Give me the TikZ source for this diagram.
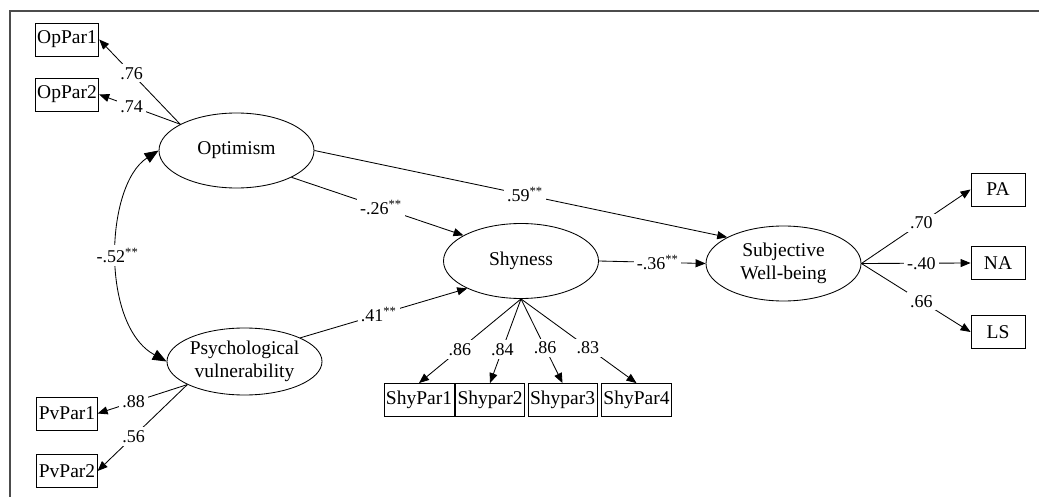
\documentclass[tikz,border=0pt]{standalone}
\usepackage{fontspec}
\setmainfont{Liberation Serif}
\newfontfamily\timesfont{Liberation Serif}
\usetikzlibrary{arrows.meta,positioning,shapes.geometric}

\begin{document}
\begin{tikzpicture}[x=1pt,y=-1pt,line width=0.85pt,
    latent/.style={ellipse,draw,minimum width=155pt,minimum height=75pt,inner sep=0pt,
      align=center,font=\timesfont\fontsize{19.5}{23}\selectfont},
    obs/.style={rectangle,draw,minimum width=54pt,minimum height=33pt,inner xsep=2pt,
      font=\timesfont\fontsize{19.5}{20}\selectfont},
    coef/.style={fill=white,inner sep=3pt,font=\timesfont\fontsize{18}{19}\selectfont},
    load/.style={-{Triangle[length=10pt,width=8pt]}},
    corr/.style={{Triangle[length=14pt,width=11pt]}-{Triangle[length=14pt,width=11pt]}}]
  \useasboundingbox (0,0) rectangle (1039,497);
  % frame
  \draw[black!70,line width=1.5pt] (1039,11) -- (10,11) -- (10,497);

  % latent variables
  \node[latent] (opt) at (236.5,150.5) {Optimism};
  \node[latent,minimum height=67pt] (psy) at (244.5,361.5) {Psychological\\vulnerability};
  \node[latent] (shy) at (521,261) {Shyness};
  \node[latent] (swb) at (783.5,263.5) {Subjective\\Well-being};

  % indicators
  \node[obs] (op1) at (67,39.5) {OpPar1};
  \node[obs] (op2) at (67,94.5) {OpPar2};
  \node[obs] (pv1) at (67,413.5) {PvPar1};
  \node[obs] (pv2) at (67,471) {PvPar2};
  \node[obs] (sp1) at (419,400) {ShyPar1};
  \node[obs] (sp2) at (490,400) {Shypar2};
  \node[obs] (sp3) at (562.5,400) {Shypar3};
  \node[obs] (sp4) at (636.5,400) {ShyPar4};
  \node[obs] (pa) at (998,189.5) {PA};
  \node[obs] (na) at (998,263) {NA};
  \node[obs] (ls) at (998,332) {LS};

  % loadings
  \draw[load] (opt.155) -- (op1.east) node[coef,pos=0.6] {.76};
  \draw[load] (opt.155) -- (op2.east) node[coef,pos=0.6] {.74};
  \draw[load] (psy.202) -- (pv1.east) node[coef,pos=0.6] {.88};
  \draw[load] (psy.202) -- (pv2.east) node[coef,pos=0.6] {.56};
  \draw[load] (shy.south) -- (sp1.north) node[coef,pos=0.6] {.86};
  \draw[load] (shy.south) -- (sp2.north) node[coef,pos=0.6] {.84};
  \draw[load] (shy.south) -- (sp3.north) node[coef,pos=0.58] {.86};
  \draw[load] (shy.south) -- (sp4.north) node[coef,pos=0.58] {.83};
  \draw[load] (swb.east) -- (pa.west) node[coef,pos=0.55] {.70};
  \draw[load] (swb.east) -- (na.west) node[coef,pos=0.55] {-.40};
  \draw[load] (swb.east) -- (ls.west) node[coef,pos=0.55] {.66};

  % structural paths
  \draw[load] (opt.east) -- (swb.155) node[coef,pos=0.51] {.59\textsuperscript{**}};
  \draw[load] (opt.-26) -- (shy.156) node[coef,pos=0.52] {-.26\textsuperscript{**}};
  \draw[load] (psy.23) -- (shy.207) node[coef,pos=0.47] {.41\textsuperscript{**}};
  \draw[load] (shy.east) -- (swb.west) node[coef,pos=0.55] {-.36\textsuperscript{**}};

  % correlation
  \draw[corr] (opt.west) .. controls (105,185) and (100,325) .. (psy.west)
    node[coef,pos=0.5] {-.52\textsuperscript{**}};
\end{tikzpicture}
\end{document}
